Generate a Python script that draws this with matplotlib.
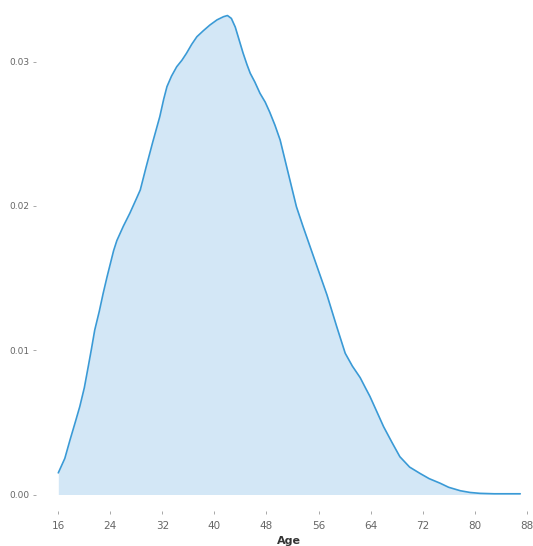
import matplotlib
matplotlib.use("Agg")
import matplotlib.pyplot as plt

# Kernel density estimate of age, sampled along the curve
age = [16.0, 17.0, 17.8, 18.6, 19.3, 20.0, 20.6, 21.1, 21.6, 22.3,
       22.9, 23.5, 24.0, 24.5, 25.0, 26.0, 27.0, 28.0, 28.6, 29.5,
       30.5, 31.6, 32.2, 32.7, 33.4, 34.2, 35.0, 35.7, 36.5, 37.3,
       38.3, 39.3, 40.4, 41.4, 42.0, 42.6, 43.2, 43.8, 44.4, 45.0,
       45.5, 46.2, 47.0, 47.8, 48.5, 49.3, 50.1, 51.1, 52.6, 53.6,
       54.7, 56.0, 57.3, 58.8, 60.1, 61.2, 62.4, 63.2, 63.9, 65.0,
       66.0, 67.3, 68.5, 70.0, 71.6, 73.0, 74.7, 76.0, 77.8, 79.3,
       80.8, 83.0, 85.0, 87.0]
density = [0.00150, 0.00250, 0.00378, 0.00500, 0.00609, 0.00740, 0.00886, 0.01010, 0.01140, 0.01270,
           0.01395, 0.01510, 0.01600, 0.01690, 0.01760, 0.01860, 0.01950, 0.02050, 0.02111, 0.02270,
           0.02440, 0.02619, 0.02740, 0.02827, 0.02900, 0.02965, 0.03010, 0.03058, 0.03120, 0.03173,
           0.03215, 0.03254, 0.03290, 0.03312, 0.03320, 0.03300, 0.03240, 0.03150, 0.03060, 0.02980,
           0.02920, 0.02860, 0.02781, 0.02720, 0.02650, 0.02560, 0.02457, 0.02272, 0.01995, 0.01860,
           0.01718, 0.01550, 0.01383, 0.01163, 0.00979, 0.00890, 0.00810, 0.00740, 0.00680, 0.00570,
           0.00470, 0.00360, 0.00262, 0.00190, 0.00146, 0.00110, 0.00078, 0.00050, 0.00026, 0.00014,
           0.00008, 0.00005, 0.00005, 0.00005]

x_ticks = [16, 24, 32, 40, 48, 56, 64, 72, 80, 88]
y_ticks = [0.00, 0.01, 0.02, 0.03]
y_tick_labels = ["0.00", "0.01", "0.02", "0.03"]

W, H = 533, 546
fig = plt.figure(figsize=(W / 100, H / 100), dpi=100)

# panel in pixel coordinates
left_px, right_px, top_px, bottom_px = 36, 533, 0, 511
ax = fig.add_axes([left_px / W, (H - bottom_px) / H,
                   (right_px - left_px) / W, (bottom_px - top_px) / H])

x_px_per_unit = 6.506
x0_px = 58.3
ax.set_xlim(16 - (x0_px - left_px) / x_px_per_unit,
            16 + (right_px - x0_px) / x_px_per_unit)
y_px_per_unit = 14427
y0_px = 494.5
ax.set_ylim(-(bottom_px - y0_px) / y_px_per_unit,
            (y0_px - top_px) / y_px_per_unit)

ax.fill_between(age, density, 0, color="#d3e7f6", linewidth=0)
ax.plot(age, density, color="#3a9ad6", linewidth=1.2,
        solid_capstyle="round", solid_joinstyle="round")

for s in ax.spines.values():
    s.set_visible(False)

ax.set_xticks(x_ticks)
ax.set_xticklabels([str(t) for t in x_ticks])
ax.set_yticks(y_ticks)
ax.set_yticklabels(y_tick_labels)
ax.tick_params(axis="both", colors="#9a9a9a", length=2.5, width=0.6,
               labelcolor="#666666", pad=5)
ax.tick_params(axis="x", labelsize=7.5)
ax.tick_params(axis="y", labelsize=6.5, pad=2)

fig.text(289 / W, 1 - 541 / H, "Age", ha="center", va="center",
         fontsize=8, color="#333333", fontweight="bold")

fig.savefig("out.png", dpi=100)
